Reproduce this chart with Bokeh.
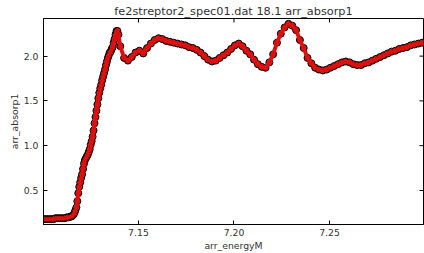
import math
from bokeh.plotting import figure
from bokeh.models import Range1d, FixedTicker, NumeralTickFormatter, Title
from bokeh.embed import file_html
from bokeh.resources import INLINE

# pre-edge region
e_pre = [7.1005, 7.1015, 7.1025, 7.1035, 7.1045, 7.1055, 7.1065, 7.1075,
         7.1085, 7.1095, 7.1105, 7.1115, 7.1125, 7.1135, 7.1145]
mu_pre = [0.18, 0.18, 0.18, 0.18, 0.18, 0.18, 0.19, 0.19,
          0.19, 0.19, 0.19, 0.19, 0.20, 0.20, 0.21]

# edge region
e_edge = [7.1150, 7.1155, 7.1160, 7.1165, 7.1170, 7.1175, 7.1180, 7.1185, 7.1190, 7.1195,
          7.1200, 7.1205, 7.1210, 7.1215, 7.1220, 7.1225, 7.1230, 7.1235, 7.1240, 7.1245,
          7.1250, 7.1255, 7.1260, 7.1265, 7.1270, 7.1275, 7.1280, 7.1285, 7.1290, 7.1295,
          7.1300, 7.1305, 7.1310, 7.1315, 7.1320, 7.1325, 7.1330, 7.1335, 7.1340, 7.1345,
          7.1350, 7.1355, 7.1360, 7.1365, 7.1370, 7.1375, 7.1380, 7.1385, 7.1390, 7.1395]
mu_edge = [0.21, 0.22, 0.23, 0.25, 0.28, 0.31, 0.38, 0.47, 0.54, 0.59,
           0.64, 0.68, 0.74, 0.80, 0.84, 0.86, 0.88, 0.90, 0.93, 0.96,
           1.01, 1.05, 1.10, 1.17, 1.25, 1.32, 1.39, 1.46, 1.53, 1.59,
           1.64, 1.68, 1.73, 1.77, 1.81, 1.85, 1.90, 1.94, 1.98, 2.01,
           2.04, 2.05, 2.08, 2.10, 2.15, 2.19, 2.24, 2.28, 2.28, 2.24]

# post-edge region
e_post = [7.1405, 7.1425, 7.1445, 7.1465, 7.1485, 7.1505, 7.1525, 7.1545, 7.1565, 7.1585,
          7.1605, 7.1625, 7.1645, 7.1665, 7.1685, 7.1705, 7.1725, 7.1745, 7.1765, 7.1785,
          7.1805, 7.1825, 7.1845, 7.1865, 7.1885, 7.1905, 7.1925, 7.1945, 7.1965, 7.1985,
          7.2005, 7.2025, 7.2045, 7.2065, 7.2085, 7.2105, 7.2125, 7.2145, 7.2165, 7.2185,
          7.2205, 7.2225, 7.2245, 7.2265, 7.2285, 7.2305, 7.2325, 7.2345, 7.2365, 7.2385,
          7.2405, 7.2425, 7.2445, 7.2465, 7.2485, 7.2505, 7.2525, 7.2545, 7.2565, 7.2585,
          7.2605, 7.2625, 7.2645, 7.2665, 7.2685, 7.2705, 7.2725, 7.2745, 7.2765, 7.2785,
          7.2805, 7.2825, 7.2845, 7.2865, 7.2885, 7.2905, 7.2925, 7.2945, 7.2965, 7.2985]
mu_post = [2.11, 1.98, 1.95, 1.99, 2.04, 2.06, 2.03, 2.09, 2.14, 2.18,
           2.20, 2.19, 2.17, 2.16, 2.15, 2.14, 2.13, 2.12, 2.10, 2.09,
           2.07, 2.04, 2.00, 1.96, 1.94, 1.95, 1.98, 2.01, 2.04, 2.08,
           2.12, 2.14, 2.11, 2.06, 2.02, 1.96, 1.91, 1.88, 1.87, 1.93,
           2.02, 2.15, 2.25, 2.32, 2.36, 2.34, 2.29, 2.18, 2.09, 1.98,
           1.92, 1.87, 1.85, 1.84, 1.85, 1.87, 1.89, 1.91, 1.93, 1.94,
           1.93, 1.91, 1.90, 1.90, 1.92, 1.93, 1.95, 1.97, 1.99, 2.01,
           2.03, 2.05, 2.06, 2.08, 2.09, 2.10, 2.12, 2.13, 2.14, 2.15]

x_ticks = [7.15, 7.20, 7.25]
y_ticks = [0.5, 1.0, 1.5, 2.0]
title_text = "fe2streptor2_spec01.dat 18.1 arr_absorp1"
x_label = "arr_energyM"
y_label = "arr_absorp1"

energy = e_pre + e_edge + e_post
absorp = mu_pre + mu_edge + mu_post

X0, X1 = 7.1003, 7.2992
Y0, Y1 = 0.12, 2.42

TXT = "#333333"
FONT = "DejaVu Sans"

p = figure(width=424, height=253, output_backend="svg", toolbar_location=None,
           x_range=Range1d(X0, X1), y_range=Range1d(Y0, Y1),
           min_border_left=43, min_border_right=1, min_border_top=18, min_border_bottom=29)

p.scatter(energy, absorp, marker="circle", size=7, fill_color="#d81414",
          line_color="black", line_width=1)
p.line(energy, absorp, line_color="#dd1010", line_width=4)

# mirrored inward tick marks on top and right edges (half of each dash is clipped by the frame)
p.scatter(x_ticks, [Y1] * len(x_ticks), marker="dash", size=8, angle=math.pi / 2,
          line_color="black", line_width=1)
p.scatter([X1] * len(y_ticks), y_ticks, marker="dash", size=8,
          line_color="black", line_width=1)

p.xgrid.visible = False
p.ygrid.visible = False
p.outline_line_color = "black"
p.outline_line_alpha = 1
p.outline_line_width = 1
p.background_fill_color = "white"
p.border_fill_color = "white"

p.xaxis.ticker = FixedTicker(ticks=x_ticks)
p.yaxis.ticker = FixedTicker(ticks=y_ticks)
p.xaxis.formatter = NumeralTickFormatter(format="0.00")
p.yaxis.formatter = NumeralTickFormatter(format="0.0")
p.xaxis.axis_label = x_label
p.yaxis.axis_label = y_label

for ax in (p.xaxis[0], p.yaxis[0]):
    ax.major_tick_in = 4
    ax.major_tick_out = 0
    ax.minor_tick_in = 0
    ax.minor_tick_out = 0
    ax.axis_line_color = "black"
    ax.major_tick_line_color = "black"
    ax.major_label_text_font = FONT
    ax.major_label_text_font_size = "9.3px"
    ax.major_label_text_color = TXT
    ax.axis_label_text_font = FONT
    ax.axis_label_text_font_size = "9.3px"
    ax.axis_label_text_font_style = "normal"
    ax.axis_label_text_color = TXT
    ax.axis_label_standoff = 1
p.xaxis.major_label_standoff = 4
p.yaxis.major_label_standoff = 5

t = Title(text=title_text, align="center", text_font=FONT, text_font_size="11.3px",
          text_font_style="normal", text_color=TXT, standoff=1, offset=0)
p.add_layout(t, "above")

open("out.html", "w").write(file_html(p, INLINE))
